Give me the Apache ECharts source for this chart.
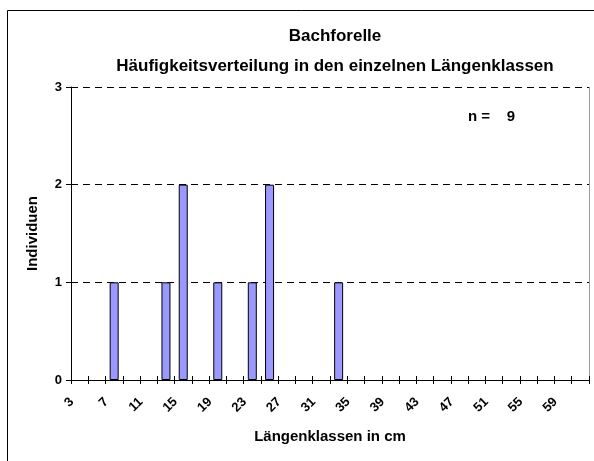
<!DOCTYPE html>
<html>
<head>
<meta charset="utf-8">
<script src="https://cdn.jsdelivr.net/npm/echarts@6/dist/echarts.min.js"></script>
<style>
  html, body { margin: 0; padding: 0; background: #fff; }
  #chart { width: 594px; height: 461px; }
</style>
</head>
<body>
<div id="chart"></div>
<script>
// length classes in cm (2 cm steps), only every second one gets a label
var classes = [];
for (var c = 3; c <= 61; c += 2) classes.push(String(c));

// counts per class
var countClass = ["7", "13", "15", "19", "23", "25", "33"];
var countValue = [1, 1, 2, 1, 1, 2, 1];

var yTicks = [0, 1, 2, 3];

// empty classes get no bar at all
var counts = classes.map(function (k) {
  var i = countClass.indexOf(k);
  return i > -1 ? countValue[i] : null;
});

var font = "'Liberation Sans', Arial, sans-serif";

var myChart = echarts.init(document.getElementById('chart'));

var option = {
  animation: false,
  backgroundColor: '#fff',
  title: [{
    text: 'Bachforelle',
    left: 330, top: 23, textAlign: 'center',
    textStyle: { fontFamily: font, fontWeight: 'bold', fontSize: 17, color: '#000' }
  }, {
    text: 'Häufigkeitsverteilung in den einzelnen Längenklassen',
    left: 330, top: 53, textAlign: 'center',
    textStyle: { fontFamily: font, fontWeight: 'bold', fontSize: 17, color: '#000' }
  }],
  graphic: [{
    type: 'rect',
    shape: { x: 7.5, y: 10.5, width: 620, height: 480 },
    style: { fill: 'none', stroke: '#000', lineWidth: 1 },
    silent: true
  }, {
    type: 'text',
    left: 468, top: 109,
    style: { text: 'n =    9', font: 'bold 15px ' + font, fill: '#000' }
  }, {
    type: 'line',
    shape: { x1: 589.5, y1: 87, x2: 589.5, y2: 380 },
    style: { stroke: '#999', lineWidth: 1 }
  }],
  grid: { left: 71, right: 5, top: 87, bottom: 81 },
  xAxis: [{
    type: 'category',
    data: classes,
    name: 'Längenklassen in cm',
    nameLocation: 'middle',
    nameGap: 49,
    nameTextStyle: { fontFamily: font, fontWeight: 'bold', fontSize: 15, color: '#000' },
    axisLine: { lineStyle: { color: '#000', width: 1 } },
    axisTick: { show: true, interval: 0, length: 4, lineStyle: { color: '#000' } },
    axisLabel: {
      interval: 1, rotate: 45, margin: 12,
      padding: [0, 11, 0, 0],
      fontFamily: font, fontWeight: 'bold', fontSize: 13, color: '#000'
    },
    splitLine: { show: false }
  }, {
    type: 'category',
    data: classes,
    position: 'bottom',
    axisLine: { show: false },
    axisTick: { show: true, interval: 0, inside: true, length: 4, lineStyle: { color: '#000' } },
    axisLabel: { show: false }
  }],
  yAxis: {
    type: 'value',
    min: yTicks[0], max: yTicks[yTicks.length - 1], interval: 1,
    name: 'Individuen',
    nameLocation: 'middle',
    nameGap: 31,
    nameTextStyle: { fontFamily: font, fontWeight: 'bold', fontSize: 15, color: '#000' },
    axisLine: { show: true, lineStyle: { color: '#000', width: 1 } },
    axisTick: { show: true, length: 5, lineStyle: { color: '#000' } },
    axisLabel: { margin: 9, fontFamily: font, fontWeight: 'bold', fontSize: 13, color: '#000' },
    splitLine: { show: true, lineStyle: { color: '#000', type: [7, 5], width: 1 } }
  },
  series: [{
    type: 'bar',
    data: counts,
    barWidth: 9,
    itemStyle: { color: '#9999FF', borderColor: '#000', borderWidth: 1 }
  }]
};

myChart.setOption(option);
</script>
</body>
</html>
